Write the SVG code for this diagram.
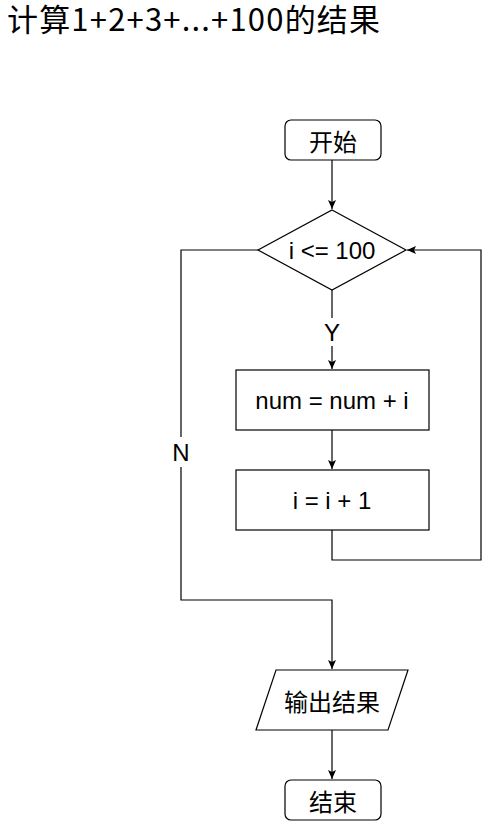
<svg xmlns="http://www.w3.org/2000/svg" width="489" height="821" viewBox="0 0 489 821">
<style>
.shape{fill:#fff;stroke:#000;stroke-width:1.2}
.edge{fill:none;stroke:#000;stroke-width:1.2}
.lt{font-family:"Liberation Sans",Arial,sans-serif;font-size:24px;fill:#000;text-anchor:middle;dominant-baseline:central}
.ct{font-family:"Noto Sans CJK SC","Liberation Sans",sans-serif;font-size:24px;fill:#000;text-anchor:middle;dominant-baseline:central}
.lbl{fill:#fff;stroke:none}
</style>
<defs>
<marker id="arr" markerWidth="10" markerHeight="8" refX="9" refY="4" orient="auto" markerUnits="userSpaceOnUse">
<path d="M0,0 L9,4 L0,8 L2,4 z" fill="#000"/>
</marker>
</defs>
<rect width="489" height="821" fill="#fff"/>
<text id="title" x="7" y="31" font-family="'Noto Sans CJK SC',sans-serif" font-size="31" fill="#000" textLength="373" lengthAdjust="spacing">计算1+2+3+...+100的结果</text>
<g id="connectors">
<path class="edge" d="M332 160 V209" marker-end="url(#arr)"/>
<path class="edge" d="M332 290 V369" marker-end="url(#arr)"/>
<rect class="lbl" x="322" y="318" width="20" height="28"/>
<text class="lt" x="332" y="332">Y</text>
<path class="edge" d="M332 430 V469" marker-end="url(#arr)"/>
<path class="edge" d="M332 530 V560 H481 V250 H407" marker-end="url(#arr)"/>
<path class="edge" d="M258 250 H181 V600 H332 V669" marker-end="url(#arr)"/>
<rect class="lbl" x="170" y="437" width="22" height="30"/>
<text class="lt" x="181" y="452">N</text>
<path class="edge" d="M332 730 V779" marker-end="url(#arr)"/>
</g>
<g id="start">
<rect class="shape" x="285" y="120" width="96" height="40" rx="6"/>
<text class="ct" x="333" y="140">开始</text>
</g>
<g id="cond">
<polygon class="shape" points="332,210 406,250 332,290 258,250"/>
<text class="lt" x="332" y="250">i &lt;= 100</text>
</g>
<g id="sum">
<rect class="shape" x="236" y="370" width="193" height="60"/>
<text class="lt" x="332" y="400">num = num + i</text>
</g>
<g id="inc">
<rect class="shape" x="236" y="470" width="193" height="60"/>
<text class="lt" x="332" y="500">i = i + 1</text>
</g>
<g id="output">
<polygon class="shape" points="276,670 408,670 388,730 256,730"/>
<text class="ct" x="332" y="700">输出结果</text>
</g>
<g id="end">
<rect class="shape" x="285" y="780" width="96" height="40" rx="6"/>
<text class="ct" x="333" y="800">结束</text>
</g>
</svg>
